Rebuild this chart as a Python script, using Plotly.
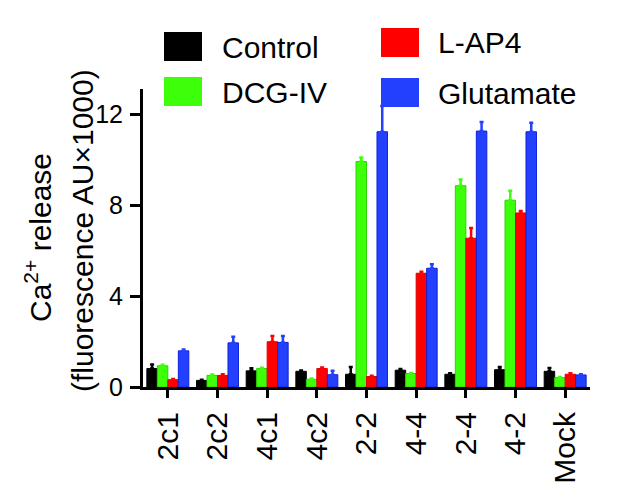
import plotly.graph_objects as go

# values (fluorescence AU x1000)
categories = ["2c1", "2c2", "4c1", "4c2", "2-2", "4-4", "2-4", "4-2", "Mock"]

control = [0.81, 0.29, 0.71, 0.69, 0.56, 0.74, 0.56, 0.76, 0.69]
control_err = [0.18, 0.03, 0.11, 0.04, 0.32, 0.05, 0.04, 0.12, 0.15]

dcg_iv = [0.93, 0.51, 0.81, 0.34, 9.91, 0.59, 8.85, 8.21, 0.41]
dcg_iv_err = [0.05, 0.04, 0.04, 0.03, 0.18, 0.03, 0.27, 0.42, 0.03]

l_ap4 = [0.32, 0.51, 1.99, 0.81, 0.46, 5.00, 6.54, 7.65, 0.56]
l_ap4_err = [0.03, 0.05, 0.25, 0.05, 0.03, 0.07, 0.45, 0.09, 0.04]

glutamate = [1.59, 1.94, 1.96, 0.54, 11.22, 5.22, 11.25, 11.22, 0.53]
glutamate_err = [0.06, 0.27, 0.28, 0.17, 1.13, 0.18, 0.40, 0.40, 0.03]

y_ticks = [0, 4, 8, 12]

W, H = 617, 493
L, R, T, B = 143, 27, 89, 106
FONT = "Liberation Sans, Arial, sans-serif"

series = [
    ("Control", control, control_err, "#000000", "#000000"),
    ("DCG-IV", dcg_iv, dcg_iv_err, "#3dff0a", "#2ad400"),
    ("L-AP4", l_ap4, l_ap4_err, "#ff0000", "#dd0000"),
    ("Glutamate", glutamate, glutamate_err, "#2340ff", "#1020d8"),
]

fig = go.Figure()
for name, vals, errs, col, edge in series:
    fig.add_trace(go.Bar(
        x=categories, y=vals, name=name,
        marker=dict(color=col, line=dict(color=edge, width=1)),
        error_y=dict(type="data", array=errs, arrayminus=[0] * len(errs),
                     symmetric=False, color=col, thickness=2.5, width=2),
        showlegend=False,
    ))


def px_x(p):
    return (p - L) / (W - L - R)


def px_y(p):
    return (H - B - p) / (H - T - B)


# hand-built legend with large swatches, two columns
legend_items = [
    ("Control", "#000000", 164, 32, 220),
    ("DCG-IV", "#3dff0a", 164, 77, 220),
    ("L-AP4", "#ff0000", 381, 28, 436),
    ("Glutamate", "#2340ff", 381, 78, 436),
]
for label, col, sx, sy, tx in legend_items:
    fig.add_shape(type="rect", xref="paper", yref="paper",
                  x0=px_x(sx), x1=px_x(sx + 38), y0=px_y(sy), y1=px_y(sy + 29),
                  fillcolor=col, line=dict(width=0))
    fig.add_annotation(xref="paper", yref="paper", x=px_x(tx), y=px_y(sy + 15),
                       text=label, showarrow=False, xanchor="left", yanchor="middle",
                       font=dict(family=FONT, size=30, color="black"))

# two-line y axis title
fig.add_annotation(xref="paper", yref="paper", x=px_x(38), y=px_y(238),
                   text="Ca<sup>2+</sup> release", textangle=-90, showarrow=False,
                   xanchor="center", yanchor="middle",
                   font=dict(family=FONT, size=30, color="black"))
fig.add_annotation(xref="paper", yref="paper", x=px_x(82), y=px_y(231),
                   text="(fluorescence AU×1000)", textangle=-90, showarrow=False,
                   xanchor="center", yanchor="middle",
                   font=dict(family=FONT, size=30, color="black"))

fig.update_layout(
    width=W, height=H,
    margin=dict(l=L, r=R, t=T, b=B),
    barmode="group", bargap=0.155, bargroupgap=0,
    plot_bgcolor="white", paper_bgcolor="white",
    font=dict(family=FONT, color="black"),
    xaxis=dict(
        showline=True, linecolor="black", linewidth=3,
        ticks="outside", ticklen=8, tickwidth=3, tickcolor="black",
        tickangle=-90, tickfont=dict(size=30), ticklabelstandoff=2,
        showgrid=False, automargin=False,
    ),
    yaxis=dict(
        range=[0, 13.1], tickvals=y_ticks,
        showline=True, linecolor="black", linewidth=3,
        ticks="outside", ticklen=10, tickwidth=3, tickcolor="black",
        tickfont=dict(size=25), ticklabelstandoff=2,
        showgrid=False, zeroline=False, automargin=False,
    ),
)

# drop the page's default body margin so the figure sits at the window origin
fig.write_html("out.html", config={"displayModeBar": False},
               post_script="document.body.style.margin='0';")
